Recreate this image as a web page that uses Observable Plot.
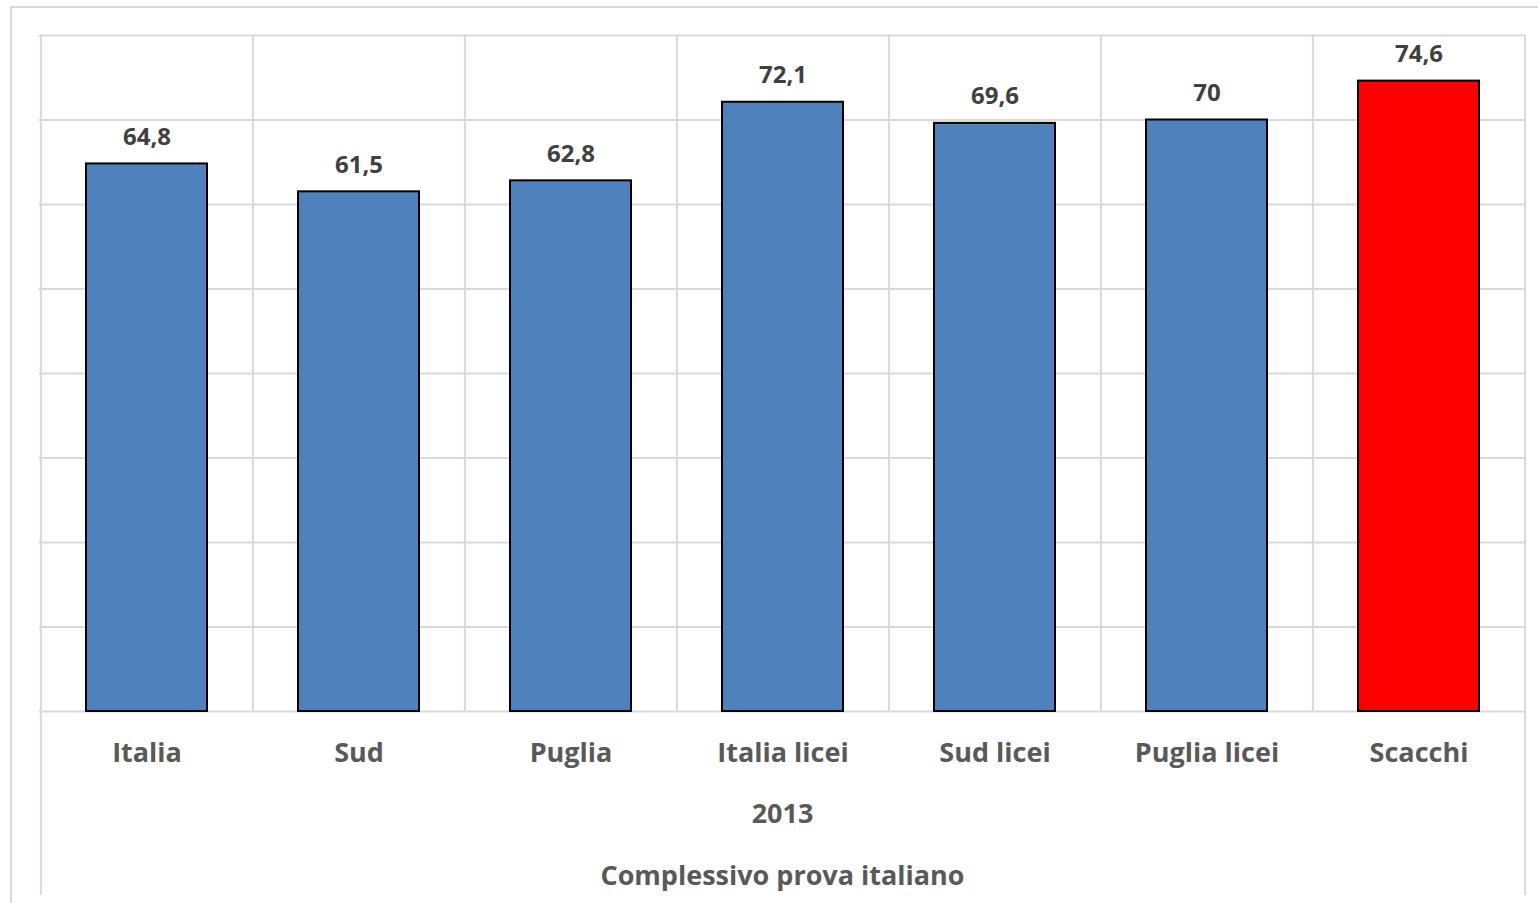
<!DOCTYPE html>
<html>
<head>
<meta charset="utf-8">
<script src="https://cdn.jsdelivr.net/npm/d3@7"></script>
<script src="https://cdn.jsdelivr.net/npm/@observablehq/plot@0.6"></script>
<style>
  html, body { margin: 0; padding: 0; background: #fff; overflow: hidden; }
  #frame { position: absolute; left: 10px; top: 6px; width: 1700px; height: 1100px; border: 2px solid #d9d9d9; box-sizing: border-box; }
  #chart { position: absolute; left: 0; top: 0; }
  svg { font-family: "Open Sans", Lato, sans-serif; }
</style>
</head>
<body>
<div id="frame"></div>
<div id="chart"></div>
<script>
const categories = ["Italia", "Sud", "Puglia", "Italia licei", "Sud licei", "Puglia licei", "Scacchi"];
const values = [64.8, 61.5, 62.8, 72.1, 69.6, 70, 74.6];
const barColors = ["#4F81BD", "#4F81BD", "#4F81BD", "#4F81BD", "#4F81BD", "#4F81BD", "#FF0000"];
const yTicks = [0, 10, 20, 30, 40, 50, 60, 70, 80];
const yearLabel = ["2013"];
const groupLabel = ["Complessivo prova italiano"];

const data = categories.map((c, i) => ({cat: c, value: values[i], color: barColors[i]}));

const W = 1538, H = 903;
const mL = 39, mR = 13, mT = 35, mB = 192;
const step = (W - mL - mR) / categories.length;
const grid = "#d9d9d9";
const fmt = v => String(v).replace(".", ",");

const plot = Plot.plot({
  width: W,
  height: H,
  marginLeft: mL,
  marginRight: mR,
  marginTop: mT,
  marginBottom: mB,
  style: {fontFamily: "'Open Sans', Lato, sans-serif", background: "transparent", overflow: "visible"},
  x: {domain: categories, paddingInner: 0.43, paddingOuter: 0.215, axis: null},
  y: {domain: [0, 80], axis: null},
  marks: [
    Plot.ruleY(yTicks, {y: d => d, stroke: grid, strokeWidth: 2}),
    Plot.ruleX(categories.slice(1), {x: d => d, dx: -step / 2, y1: 80, y2: 0, stroke: grid, strokeWidth: 2}),
    Plot.ruleX([categories[0]], {x: d => d, dx: -step / 2, y1: 80, y2: 0, insetBottom: -184, stroke: grid, strokeWidth: 2}),
    Plot.ruleX([categories[categories.length - 1]], {x: d => d, dx: step / 2, y1: 80, y2: 0, insetBottom: -184, stroke: grid, strokeWidth: 2}),
    Plot.barY(data, {x: "cat", y: "value", fill: "color", stroke: "#000", strokeWidth: 2}),
    Plot.text(data, {x: "cat", y: "value", text: d => fmt(d.value), dy: -27, lineAnchor: "middle", fontSize: 24, fontWeight: 700, fill: "#404040"}),
    Plot.text(categories, {x: d => d, frameAnchor: "bottom", dy: 42, lineAnchor: "middle", fontSize: 27, fontWeight: 700, fill: "#595959"}),
    Plot.text(yearLabel, {frameAnchor: "bottom", dy: 103, lineAnchor: "middle", fontSize: 27, fontWeight: 700, fill: "#595959"}),
    Plot.text(groupLabel, {frameAnchor: "bottom", dy: 165, lineAnchor: "middle", fontSize: 27, fontWeight: 700, fill: "#595959"})
  ]
});
document.getElementById("chart").appendChild(plot);
</script>
</body>
</html>
